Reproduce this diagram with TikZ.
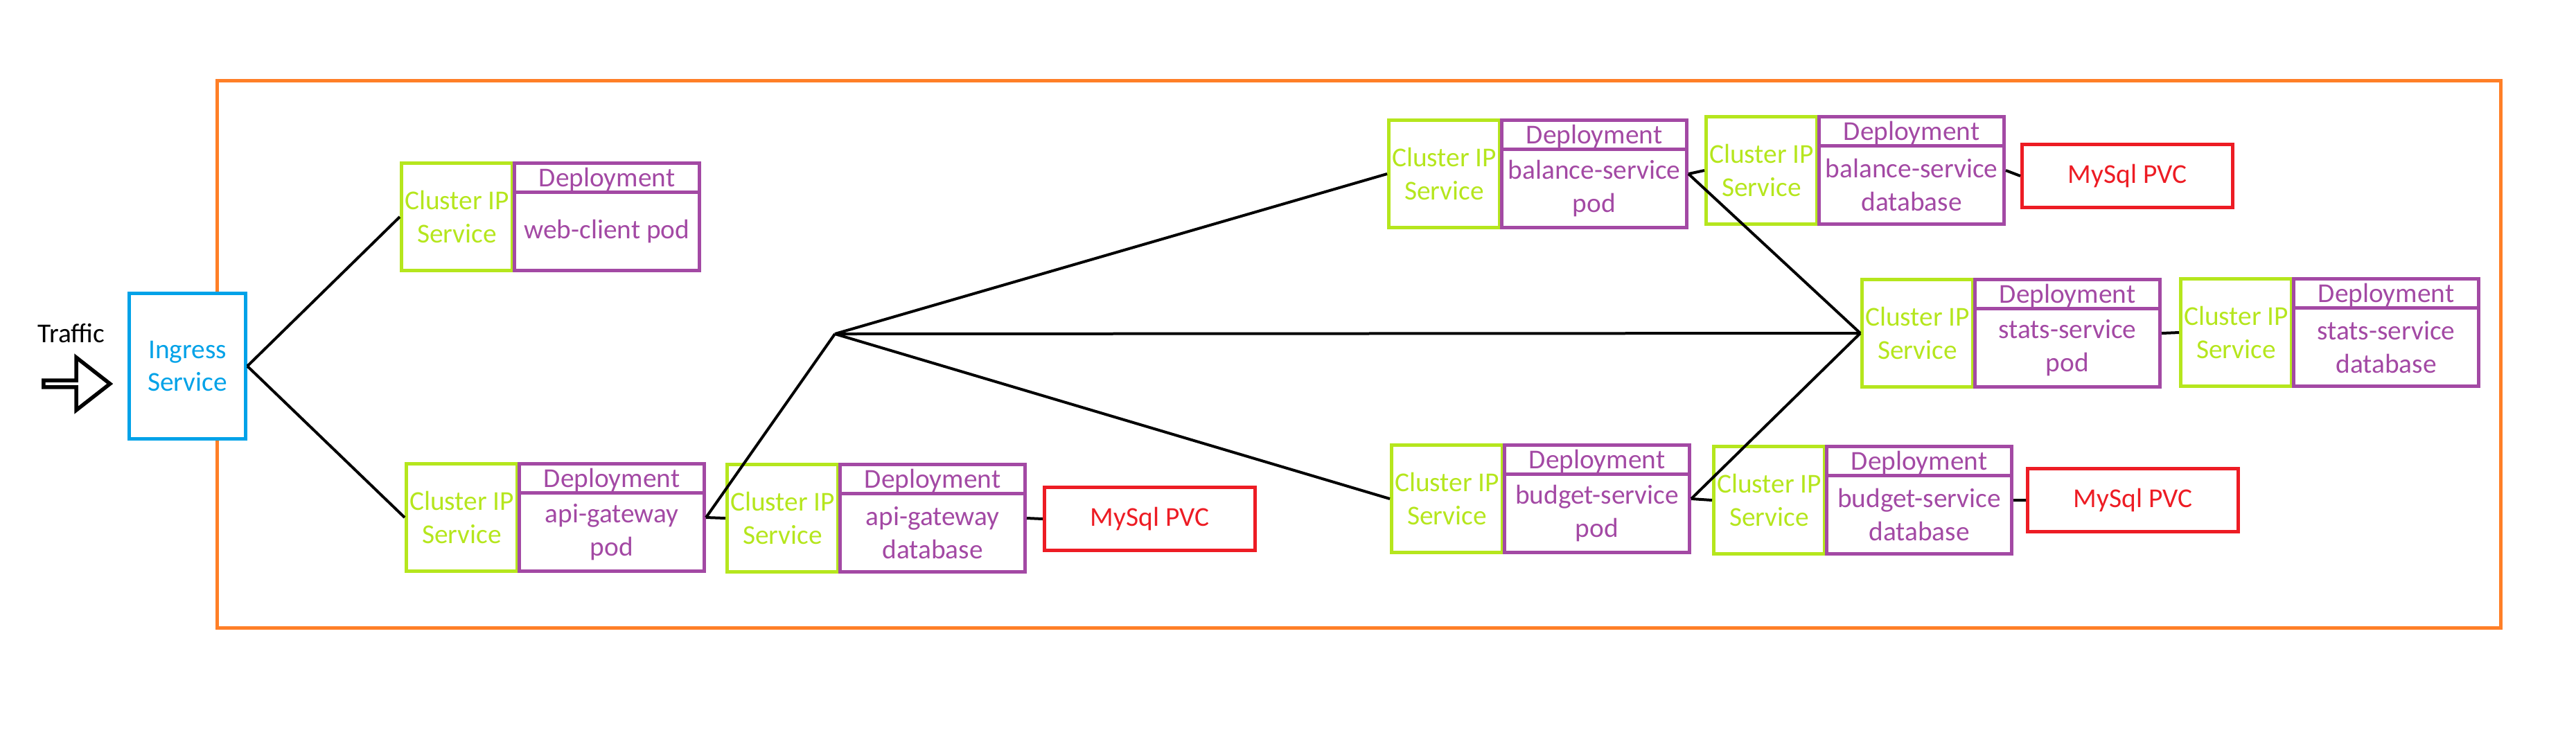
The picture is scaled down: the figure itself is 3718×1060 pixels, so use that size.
\documentclass[tikz,border=0pt]{standalone}
\usepackage{fontspec}
\setmainfont{Carlito}
\usetikzlibrary{shapes.arrows}
\definecolor{cipgreen}{RGB}{181,230,29}
\definecolor{deppurple}{RGB}{163,73,164}
\definecolor{pvcred}{RGB}{237,28,36}
\definecolor{frameorange}{RGB}{255,127,39}
\definecolor{ingblue}{RGB}{0,162,232}

\begin{document}
\begin{tikzpicture}[x=0.1mm,y=-0.1mm,font=\fontsize{11.2}{13.6}\selectfont,
    cip/.style={draw=cipgreen,text=cipgreen,line width=0.5mm,minimum width=16mm,minimum height=15.5mm,anchor=north west,inner sep=0pt,align=center},
    depbox/.style={draw=deppurple,line width=0.5mm,minimum width=26.7mm,minimum height=15.5mm,anchor=north west,inner sep=0pt},
    deptext/.style={text=deppurple,align=center,inner sep=0pt},
    pvc/.style={draw=pvcred,text=pvcred,line width=0.5mm,minimum width=30.4mm,minimum height=9.1mm,anchor=north west},
    link/.style={line width=0.4mm}]
                \useasboundingbox (0,0) rectangle (3718,1060);
                \draw[frameorange,line width=0.5mm] (313,116) rectangle (3609,906);
                \node[draw=ingblue,text=ingblue,fill=white,line width=0.5mm,minimum width=16.8mm,minimum height=21mm,anchor=north west,align=center] (ingress) at (184,421) {Ingress\\Service};
                \node (traffic) at (103,481) {Traffic};
                \node[single arrow,draw,line width=0.55mm,minimum width=7.6mm,minimum height=9.6mm,single arrow head extend=1.85mm,single arrow tip angle=76,single arrow head indent=0,inner sep=0pt,anchor=tail] (trafficarrow) at (60,554) {};
                \foreach \nm/\x/\y/\txt in {web/577/233/{web-client pod},api/584/667/{api-gateway\\pod},apidb/1047/668/{api-gateway\\database},bal/2002/171/{balance-service\\pod},baldb/2460/166/{balance-service\\database},stats/2685/401/{stats-service\\pod},statsdb/3145/400/{stats-service\\database},bud/2006/640/{budget-service\\pod},buddb/2471/642/{budget-service\\database}}{
                    \node[cip] (\nm-cip) at (\x,\y) {Cluster IP\\Service};
                    \node[depbox] (\nm-dep) at ([xshift=-0.2mm]\nm-cip.north east) {};
                    \draw[deppurple,line width=0.5mm] ([yshift=-4.4mm]\nm-dep.north west)--([yshift=-4.4mm]\nm-dep.north east);
                    \node[deptext,anchor=base] (\nm-hd) at ([yshift=-3.6mm]\nm-dep.north) {Deployment};
                    \node[deptext] (\nm-txt) at ([yshift=-2.1mm]\nm-dep.center) {\txt};
                }
                \node[pvc] (pvc1) at (1505,701) {MySql PVC};
                \node[pvc] (pvc2) at (2916,206) {MySql PVC};
                \node[pvc] (pvc3) at (2924,674) {MySql PVC};
                \coordinate (hub) at (1205,482);
                \draw[link] (ingress.east)--(web-cip.west);
                \draw[link] (ingress.east)--(api-cip.west);
                \draw[link] (api-dep.east)--(hub);
                \draw[link] (api-dep.east)--(apidb-cip.west);
                \draw[link] (apidb-dep.east)--(pvc1.west);
                \draw[link] (hub)--(bal-cip.west);
                \draw[link] (hub)--(stats-cip.west);
                \draw[link] (hub)--(bud-cip.west);
                \draw[link] (bal-dep.east)--(baldb-cip.west);
                \draw[link] (bal-dep.east)--(stats-cip.west);
                \draw[link] (bud-dep.east)--(stats-cip.west);
                \draw[link] (bud-dep.east)--(buddb-cip.west);
                \draw[link] (baldb-dep.east)--(pvc2.west);
                \draw[link] (buddb-dep.east)--(pvc3.west);
                \draw[link] (stats-dep.east)--(statsdb-cip.west);
            \end{tikzpicture}
\end{document}
